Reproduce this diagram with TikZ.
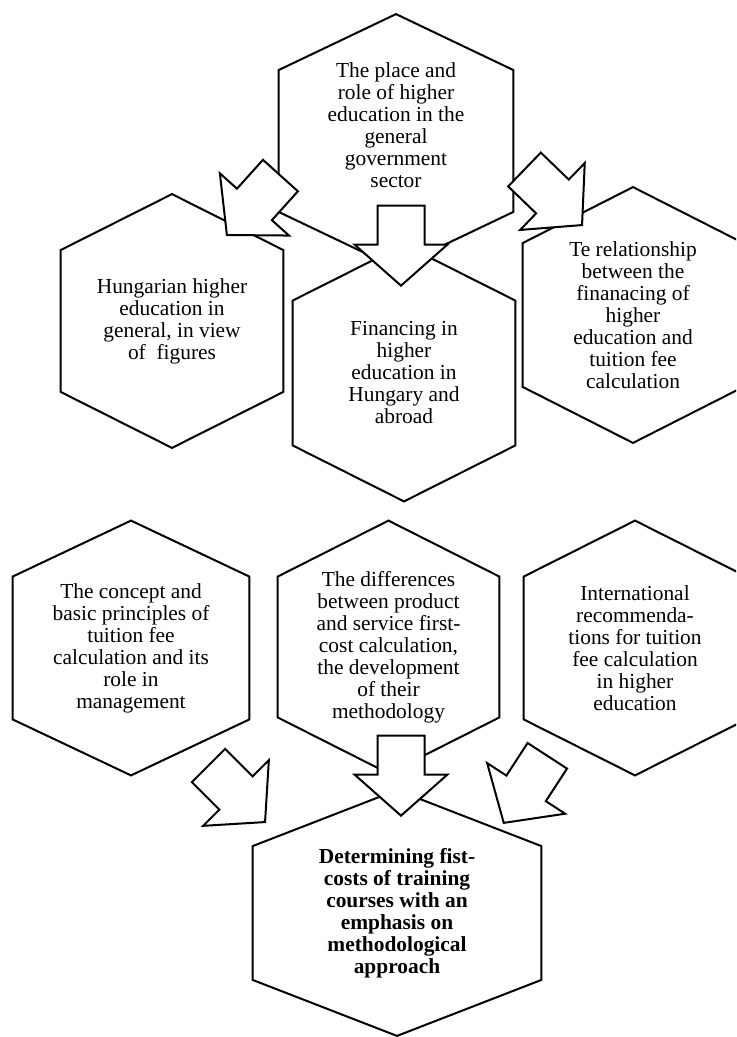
\documentclass[tikz,border=0pt]{standalone}
\usepackage{fontspec}
\setmainfont{Liberation Serif}
\usetikzlibrary{shapes.arrows}

\newcommand{\hexfont}{\fontsize{10.7}{11}\selectfont}

\begin{document}
\begin{tikzpicture}[x=0.5pt, y=-0.5pt,
    hexbox/.style 2 args={rectangle, minimum width=#1, minimum height=#2, inner sep=0pt, align=center, font=\hexfont},
    hexline/.style={line width=1pt},
    blockarrow/.style={single arrow, draw, fill=white, line width=1pt, inner xsep=0pt, inner ysep=11.25pt,
        minimum height=40pt, minimum width=0pt, single arrow head extend=11.5pt, single arrow tip angle=97, anchor=tip}]
    \useasboundingbox (0,0) rectangle (736,1037);
    \clip (0,0) rectangle (736,1037);

    % Nodes
    \node (place) [hexbox={117pt}{126.5pt}] at (396,141) {The place and\\role of higher\\education in the\\general\\government\\sector\\[4.5pt]};
    \node (hungary) [hexbox={111pt}{126.5pt}] at (172,321) {Hungarian higher\\education in\\general, in view\\of~ figures};
    \node (financing) [hexbox={111pt}{128pt}] at (404,373) {Financing in\\higher\\education in\\Hungary and\\abroad};
    \node (relation) [hexbox={110pt}{127.5pt}] at (633,315) {Te relationship\\between the\\finanacing of\\higher\\education and\\tuition fee\\calculation};
    \node (concept) [hexbox={118pt}{127pt}] at (131,648) {The concept and\\basic principles of\\tuition fee\\calculation and its\\role in\\management};
    \node (differences) [hexbox={110.5pt}{126pt}] at (388.5,647) {The differences\\between product\\and service first-\\cost calculation,\\the development\\of their\\methodology};
    \node (recommend) [hexbox={111pt}{127pt}] at (635,648) {International\\recommenda-\\tions for tuition\\fee calculation\\in higher\\education};
    \node (firstcost) [hexbox={144pt}{122.5pt}, font=\hexfont\bfseries] at (397,913) {Determining fist-\\costs of training\\courses with an\\emphasis on\\methodological\\approach};

    % Hexagon outlines
    \foreach \h in {place, hungary, financing, relation, concept, differences, recommend, firstcost}
        \draw[hexline] (\h.north) -- ([yshift=-28pt]\h.north east) -- ([yshift=28pt]\h.south east)
            -- (\h.south) -- ([yshift=28pt]\h.south west) -- ([yshift=-28pt]\h.north west) -- cycle;

    % Arrows
    \node (toFinancing) [blockarrow, rotate=-90] at (401,287) {};
    \node (toHungary) [blockarrow, rotate=228] at (226,236) {};
    \node (toRelation) [blockarrow, rotate=-44] at (583,226) {};
    \node (fromConcept) [blockarrow, rotate=-45] at (266,823) {};
    \node (fromDifferences) [blockarrow, rotate=-90] at (401,817) {};
    \node (fromRecommend) [blockarrow, rotate=237] at (503,824) {};
\end{tikzpicture}
\end{document}
